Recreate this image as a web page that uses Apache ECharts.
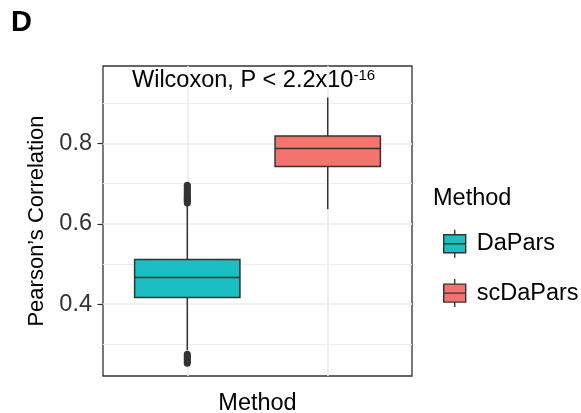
<!DOCTYPE html>
<html>
<head>
<meta charset="utf-8">
<style>
  html, body { margin: 0; padding: 0; background: #ffffff; }
  #chart { width: 581px; height: 413px; }
</style>
<script src="https://cdn.jsdelivr.net/npm/echarts@6/dist/echarts.min.js"></script>
</head>
<body>
<div id="chart"></div>
<script>
// Per-method box statistics (Pearson's correlation)
const methods = ['DaPars', 'scDaPars'];
const methodPos = [1, 2];
const whiskerLow = [0.2855, 0.6366];
const quartile1 = [0.4167, 0.7427];
const medians = [0.4665, 0.7875];
const quartile3 = [0.5113, 0.8190];
const whiskerHigh = [0.6466, 0.9146];
const methodColors = ['#1BBEC2', '#F4746D'];

// Points beyond the whiskers (DaPars only)
const outliersDaPars = [0.652, 0.655, 0.658, 0.661, 0.664, 0.667, 0.670, 0.674,
                        0.678, 0.682, 0.686, 0.690, 0.694, 0.696,
                        0.253, 0.256, 0.259, 0.263, 0.267, 0.271, 0.2755];

// Axis setup
const yRange = [0.2211, 0.9931];
const xRange = [0.4, 2.6];
const yMajorTicks = [0.4, 0.6, 0.8];
const yMinorTicks = [0.3, 0.5, 0.7, 0.9];
const xMajorTicks = [1, 2];

const FONT = "'Liberation Sans', Arial, Helvetica, sans-serif";
const EDGE = '#333333';
const GRID_LINE = '#EBEBEB';

function renderBox(params, api) {
  const x = api.value(0);
  const lo = api.coord([x, api.value(1)]);
  const b1 = api.coord([x, api.value(2)]);
  const md = api.coord([x, api.value(3)]);
  const b3 = api.coord([x, api.value(4)]);
  const hi = api.coord([x, api.value(5)]);
  const w = api.size([0.75, 0])[0];
  const fill = api.visual('color');
  const lineStyle = { stroke: EDGE, lineWidth: 1.5 };
  return {
    type: 'group',
    children: [
      { type: 'line', shape: { x1: lo[0], y1: lo[1], x2: b1[0], y2: b1[1] }, style: lineStyle },
      { type: 'line', shape: { x1: b3[0], y1: b3[1], x2: hi[0], y2: hi[1] }, style: lineStyle },
      { type: 'rect', shape: { x: b1[0] - w / 2, y: b3[1], width: w, height: b1[1] - b3[1] },
        style: { fill: fill, stroke: EDGE, lineWidth: 1.5 } },
      { type: 'line', shape: { x1: md[0] - w / 2, y1: md[1], x2: md[0] + w / 2, y2: md[1] }, style: lineStyle }
    ]
  };
}

const boxSeries = methods.map((name, i) => ({
  name: name,
  type: 'custom',
  xAxisIndex: 0,
  yAxisIndex: 0,
  renderItem: renderBox,
  itemStyle: { color: methodColors[i], borderColor: EDGE },
  encode: { x: 0, y: [1, 2, 3, 4, 5] },
  data: [[methodPos[i], whiskerLow[i], quartile1[i], medians[i], quartile3[i], whiskerHigh[i]]],
  z: 3
}));

// Legend key: box with median bar and whisker stubs
const keyIcon = 'path://M0,5L22,5L22,23L0,23ZM0,14L22,14M11,0L11,5M11,23L11,28';

const option = {
  animation: false,
  backgroundColor: '#ffffff',
  textStyle: { fontFamily: FONT },
  grid: {
    left: 103, top: 66, width: 309, height: 310,
    outerBoundsMode: 'none',
    containLabel: false,
    show: true, borderColor: EDGE, borderWidth: 1.3, backgroundColor: '#ffffff'
  },
  xAxis: [{
    type: 'value',
    min: xRange[0], max: xRange[1],
    name: 'Method',
    nameLocation: 'middle',
    nameGap: 16,
    nameTextStyle: { fontSize: 23.5, color: '#000000', fontFamily: FONT },
    axisLine: { show: false },
    axisTick: { show: false, customValues: xMajorTicks },
    axisLabel: { show: false, customValues: xMajorTicks },
    splitLine: { show: true, lineStyle: { color: GRID_LINE, width: 1.6 } }
  }],
  yAxis: [{
    type: 'value',
    min: yRange[0], max: yRange[1],
    name: 'Pearson\u2019s Correlation',
    nameLocation: 'middle',
    nameGap: 45,
    nameRotate: 90,
    nameTextStyle: { fontSize: 22, color: '#000000', fontFamily: FONT },
    axisLine: { show: false },
    axisTick: { show: true, customValues: yMajorTicks, length: 5.5, lineStyle: { color: EDGE, width: 1.2 } },
    axisLabel: {
      show: true, customValues: yMajorTicks, margin: 11,
      fontSize: 23.5, color: '#333333', fontFamily: FONT,
      formatter: v => v.toFixed(1)
    },
    splitLine: { show: true, lineStyle: { color: GRID_LINE, width: 1.6 } }
  }, {
    type: 'value',
    min: yRange[0], max: yRange[1],
    position: 'left',
    axisLine: { show: false },
    axisTick: { show: false, customValues: yMinorTicks },
    axisLabel: { show: false, customValues: yMinorTicks },
    splitLine: { show: true, lineStyle: { color: GRID_LINE, width: 1.2 } }
  }],
  legend: {
    orient: 'vertical',
    left: 438, top: 224,
    itemWidth: 22, itemHeight: 28,
    itemGap: 20,
    selectedMode: false,
    textStyle: { fontSize: 23.5, color: '#000000', fontFamily: FONT, padding: [0, 0, 0, 6] },
    data: methods.map((name, i) => ({
      name: name,
      icon: keyIcon,
      itemStyle: { color: methodColors[i], borderColor: EDGE, borderWidth: 1.4 }
    }))
  },
  graphic: [
    { type: 'text', left: 11, top: 8,
      style: { text: 'D', font: 'bold 29px ' + FONT, fill: '#000000' } },
    { type: 'text', left: 433, top: 187,
      style: { text: 'Method', font: '23.5px ' + FONT, fill: '#000000' } },
    { type: 'text', left: 132, top: 68, z: 10,
      style: {
        text: '{a|Wilcoxon, P < 2.2x10}{b|-16}',
        rich: {
          a: { fontSize: 23.5, fontFamily: FONT, fill: '#000000', lineHeight: 26 },
          b: { fontSize: 15, fontFamily: FONT, fill: '#000000', lineHeight: 19, verticalAlign: 'top' }
        }
      } }
  ],
  series: boxSeries.concat([{
    name: 'outliers',
    type: 'scatter',
    xAxisIndex: 0,
    yAxisIndex: 0,
    symbol: 'circle',
    symbolSize: 7,
    itemStyle: { color: EDGE, opacity: 1 },
    data: outliersDaPars.map(v => [methodPos[0], v]),
    z: 4
  }])
};

const chart = echarts.init(document.getElementById('chart'), null, { renderer: 'canvas' });
chart.setOption(option);
</script>
</body>
</html>
